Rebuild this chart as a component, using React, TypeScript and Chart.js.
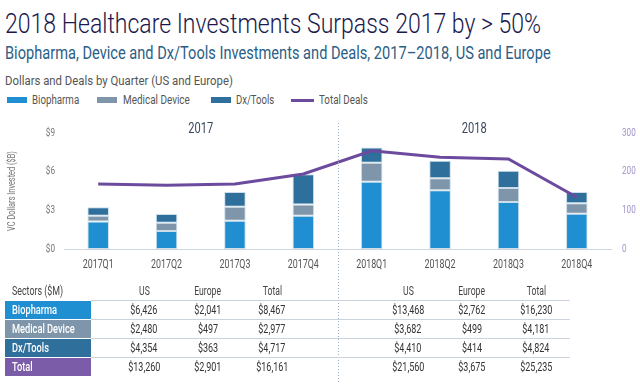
import React, { useEffect, useLayoutEffect, useRef, useState } from "react";
import { Chart, registerables } from "chart.js";

Chart.register(...registerables);

const FONT = 'Roboto, "Noto Sans", sans-serif';
const SX = 0.74; // horizontal condensing of text (reference uses a condensed face)

// ---- Chart data ----
const quarters = ["2017Q1", "2017Q2", "2017Q3", "2017Q4", "2018Q1", "2018Q2", "2018Q3", "2018Q4"];
const biopharma = [2.14, 1.4, 2.19, 2.58, 5.22, 4.55, 3.64, 2.74];
const medicalDevice = [0.44, 0.64, 1.09, 0.88, 1.47, 0.93, 1.09, 0.8];
const dxTools = [0.66, 0.67, 1.14, 2.33, 1.19, 1.36, 1.34, 0.88];
const totalDeals = [168, 165, 168, 194, 254, 237, 233, 134];
const yearLabels = ["2017", "2018"];
const dollarMax = 9;
const dollarStep = 3;
const dealsMax = 300;
const dealsStep = 100;

// ---- Table data ($M) ----
const sectors = ["Biopharma", "Medical Device", "Dx/Tools", "Total"];
const sectorColors = ["#1f8fd1", "#7f96aa", "#2f6f9c", "#7b5ca8"];
const us2017 = [6426, 2480, 4354, 13260];
const europe2017 = [2041, 497, 363, 2901];
const total2017 = [8467, 2977, 4717, 16161];
const us2018 = [13468, 3682, 4410, 21560];
const europe2018 = [2762, 499, 414, 3675];
const total2018 = [16230, 4181, 4824, 25235];
const columnHeaders = ["US", "Europe", "Total"];

const COLORS = {
  bio: "#1f8fd1",
  med: "#7f96aa",
  dx: "#2f6f9c",
  deals: "#6c4b9f",
};

const fmt = (v: number) => "$" + v.toLocaleString("en-US");

// Condense all canvas text horizontally around its anchor point
const condensePlugin = {
  id: "condense",
  beforeDraw(chart: any) {
    const ctx = chart.ctx;
    if (ctx.__origFill) return;
    const orig = ctx.fillText.bind(ctx);
    ctx.__origFill = orig;
    ctx.fillText = (text: string, x: number, y: number, maxWidth?: number) => {
      ctx.save();
      ctx.translate(x, y);
      ctx.scale(SX, 1);
      if (maxWidth !== undefined) orig(text, 0, 0, maxWidth / SX);
      else orig(text, 0, 0);
      ctx.restore();
    };
  },
};

const yearPlugin = {
  id: "yearDivider",
  afterDatasetsDraw(chart: any) {
    const { ctx, chartArea } = chart;
    const xs = chart.scales.x;
    const divX = Math.round((xs.getPixelForValue(3) + xs.getPixelForValue(4)) / 2) + 0.5;
    ctx.save();
    ctx.strokeStyle = "#9fb3c8";
    ctx.lineWidth = 1;
    ctx.setLineDash([1, 2]);
    ctx.beginPath();
    ctx.moveTo(divX, chartArea.top - 10);
    ctx.lineTo(divX, chart.height);
    ctx.stroke();
    ctx.setLineDash([]);
    ctx.fillStyle = "#3a4660";
    ctx.font = "15px " + FONT;
    ctx.textAlign = "center";
    ctx.textBaseline = "middle";
    const m1 = (xs.getPixelForValue(1) + xs.getPixelForValue(2)) / 2;
    const m2 = (xs.getPixelForValue(5) + xs.getPixelForValue(6)) / 2;
    ctx.fillText(yearLabels[0], m1, chartArea.top - 4);
    ctx.fillText(yearLabels[1], m2, chartArea.top - 4);
    ctx.restore();
  },
};

function T({ w, scale, origin = "left", style, children }: any) {
  const ref = useRef<HTMLSpanElement>(null);
  const [s, setS] = useState<number>(scale ?? SX);
  useLayoutEffect(() => {
    if (w && ref.current) {
      const nat = ref.current.offsetWidth;
      if (nat) setS(w / nat);
    }
  }, [w]);
  return (
    <span
      ref={ref}
      style={{
        display: "inline-block",
        whiteSpace: "nowrap",
        transform: `scaleX(${s})`,
        transformOrigin: origin,
        ...style,
      }}
    >
      {children}
    </span>
  );
}

const colX2017 = [144, 208, 272];
const colX2018 = [408, 472, 536];
const rowTops = [301, 320, 339, 358];
const ROW_H = 18;

export default function App() {
  const ref = useRef<HTMLCanvasElement>(null);

  useEffect(() => {
    const chart = new Chart(ref.current as HTMLCanvasElement, {
      type: "bar",
      data: {
        labels: quarters,
        datasets: [
          {
            type: "line",
            label: "Total Deals",
            data: totalDeals,
            yAxisID: "y1",
            borderColor: COLORS.deals,
            backgroundColor: COLORS.deals,
            borderWidth: 3,
            pointRadius: 0,
            tension: 0,
            order: 0,
          } as any,
          {
            label: "Biopharma",
            data: biopharma,
            backgroundColor: COLORS.bio,
            borderColor: "rgba(200,218,232,0.9)",
            borderWidth: 1,
            borderSkipped: false,
            yAxisID: "y",
            order: 1,
          },
          {
            label: "Medical Device",
            data: medicalDevice,
            backgroundColor: COLORS.med,
            borderColor: "rgba(200,218,232,0.9)",
            borderWidth: 1,
            borderSkipped: false,
            yAxisID: "y",
            order: 1,
          },
          {
            label: "Dx/Tools",
            data: dxTools,
            backgroundColor: COLORS.dx,
            borderColor: "rgba(200,218,232,0.9)",
            borderWidth: 1,
            borderSkipped: false,
            yAxisID: "y",
            order: 1,
          },
        ],
      },
      options: {
        responsive: false,
        animation: false,
        events: [],
        datasets: { bar: { barPercentage: 0.315, categoryPercentage: 1 } },
        layout: { padding: { top: 23, left: 0, right: 0, bottom: 0 } },
        plugins: { legend: { display: false }, tooltip: { enabled: false } },
        scales: {
          x: {
            stacked: true,
            grid: { display: false, drawTicks: false },
            border: { display: true, color: "#cfd6dd", width: 1 },
            ticks: { color: "#555", font: { family: FONT, size: 12 }, padding: 9, maxRotation: 0, autoSkip: false },
            afterFit: (s: any) => {
              s.height = 135;
            },
          },
          y: {
            stacked: true,
            position: "left",
            min: 0,
            max: dollarMax,
            grid: { display: false, drawTicks: false },
            border: { display: false },
            ticks: {
              stepSize: dollarStep,
              color: "#777",
              font: { family: FONT, size: 11 },
              padding: 9,
              callback: (v: any) => "$" + v,
            },
            title: {
              display: true,
              text: "VC Dollars Invested ($B)",
              color: "#777",
              font: { family: FONT, size: 10 },
              padding: { top: 6, bottom: 0 },
            },
            afterFit: (s: any) => {
              s.width = 64;
            },
          },
          y1: {
            position: "right",
            min: 0,
            max: dealsMax,
            grid: { display: false, drawTicks: false },
            border: { display: false },
            ticks: {
              stepSize: dealsStep,
              color: "#a394c9",
              font: { family: FONT, size: 11 },
              padding: 11,
            },
            afterFit: (s: any) => {
              s.width = 29;
            },
          },
        },
      } as any,
      plugins: [condensePlugin, yearPlugin],
    });
    return () => chart.destroy();
  }, []);

  const legendItems = [
    { label: "Biopharma", color: COLORS.bio, line: false, bx: 7, tx: 32, w: 47 },
    { label: "Medical Device", color: COLORS.med, line: false, bx: 97, tx: 123, w: 67 },
    { label: "Dx/Tools", color: COLORS.dx, line: false, bx: 211, tx: 236, w: 38 },
    { label: "Total Deals", color: COLORS.deals, line: true, bx: 291, tx: 319, w: 49 },
  ];

  const abs = (o: any): React.CSSProperties => ({ position: "absolute", ...o });
  const cell = (left: number, top: number, text: string, extra: any = {}) => (
    <div
      style={abs({
        left: left - 40,
        width: 80,
        top,
        height: ROW_H,
        lineHeight: ROW_H + "px",
        textAlign: "center",
        fontSize: 12.5,
        color: "#333",
        ...extra,
      })}
    >
      <T scale={0.72} origin="center">
        {text}
      </T>
    </div>
  );

  return (
    <div
      style={{
        position: "absolute",
        left: 0,
        top: 0,
        width: 640,
        height: 384,
        background: "#fff",
        overflow: "hidden",
        fontFamily: FONT,
      }}
    >
      <div style={abs({ left: 5, top: 10, fontSize: 28, lineHeight: "28px", color: "#1c1a4d", fontWeight: 300 })}>
        <T w={536}>2018 Healthcare Investments Surpass 2017 by &gt; 50%</T>
      </div>
      <div style={abs({ left: 5, top: 43, fontSize: 19, lineHeight: "19px", color: "#2b5e86", fontWeight: 400 })}>
        <T w={546}>Biopharma, Device and Dx/Tools Investments and Deals, 2017–2018, US and Europe</T>
      </div>
      <div style={abs({ left: 5, top: 74, fontSize: 13, lineHeight: "13px", color: "#555" })}>
        <T w={228}>Dollars and Deals by Quarter (US and Europe)</T>
      </div>
      {legendItems.map((it, i) => (
        <React.Fragment key={i}>
          <div
            style={abs({
              left: it.bx,
              top: it.line ? 98.5 : 97,
              width: it.line ? 23 : 20,
              height: it.line ? 3 : 6,
              background: it.color,
            })}
          />
          <div style={abs({ left: it.tx, top: 94, fontSize: 12, lineHeight: "12px", color: "#555" })}>
            <T w={it.w}>{it.label}</T>
          </div>
        </React.Fragment>
      ))}

      <canvas ref={ref} width={640} height={274} style={abs({ left: 0, top: 110, width: 640, height: 274 })} />

      {/* Table */}
      <div style={abs({ left: 12, top: 284, fontSize: 12, lineHeight: "14px", color: "#444" })}>
        <T w={51}>Sectors ($M)</T>
      </div>
      {columnHeaders.map((h, i) => (
        <React.Fragment key={h}>
          {cell(colX2017[i], 282, h, { color: "#444", fontSize: 12 })}
          {cell(colX2018[i], 282, h, { color: "#444", fontSize: 12 })}
        </React.Fragment>
      ))}
      {[300, 319, 338, 357].map((y, i) => (
        <div key={"l" + i} style={abs({ left: 91, top: y - 0.5, width: 479, height: 1.5, background: "#c9d4de" })} />
      ))}
      {sectors.map((s, r) => {
        const vals2017 = [us2017[r], europe2017[r], total2017[r]];
        const vals2018 = [us2018[r], europe2018[r], total2018[r]];
        return (
          <React.Fragment key={s}>
            <div
              style={abs({
                left: 5,
                top: rowTops[r],
                width: 86,
                height: ROW_H,
                background: sectorColors[r],
                color: "#fff",
                fontWeight: 500,
                fontSize: 12.5,
                lineHeight: ROW_H + "px",
                paddingLeft: 7,
                boxSizing: "border-box",
                overflow: "hidden",
              })}
            >
              <T scale={0.74}>{s}</T>
            </div>
            {vals2017.map((v, c) => (
              <React.Fragment key={"a" + c}>{cell(colX2017[c], rowTops[r], fmt(v))}</React.Fragment>
            ))}
            {vals2018.map((v, c) => (
              <React.Fragment key={"b" + c}>{cell(colX2018[c], rowTops[r], fmt(v))}</React.Fragment>
            ))}
          </React.Fragment>
        );
      })}
    </div>
  );
}
